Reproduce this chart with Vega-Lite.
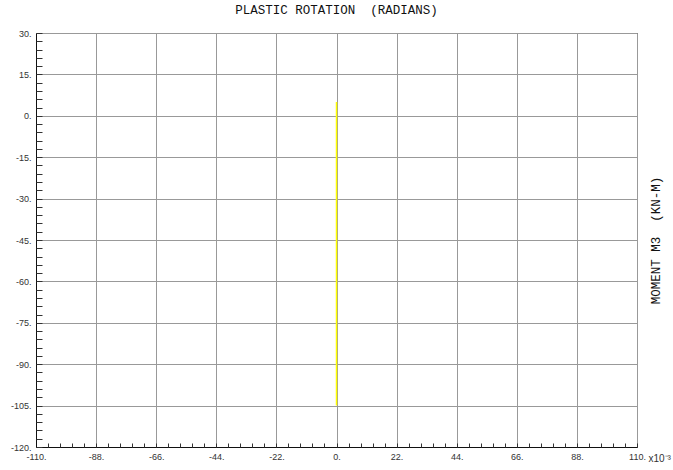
{
  "$schema": "https://vega.github.io/schema/vega-lite/v6.json",
  "width": 601,
  "height": 414,
  "autosize": {"type": "none"},
  "padding": {"left": 36, "top": 33, "right": 36, "bottom": 23},
  "background": "white",
  "config": {
    "view": {"stroke": "#222", "strokeWidth": 1},
    "axis": {"labelFont": "Liberation Sans", "labelFontSize": 9, "labelColor": "#333", "titleFont": "Liberation Mono", "titleFontWeight": "normal", "titleColor": "#111"}
  },
  "title": {"text": "PLASTIC ROTATION\u00a0\u00a0(RADIANS)", "font": "Liberation Mono", "fontSize": 12.5, "fontWeight": "normal", "color": "#111", "anchor": "middle", "offset": 13},
  "data": {"values": [{"rotation": 0, "moment": 5, "moment2": -105}]},
  "resolve": {"axis": {"x": "independent", "y": "independent"}},
  "layer": [
    {
      "mark": {"type": "rule", "color": "#FFFF00", "strokeWidth": 1.5},
      "encoding": {
        "x": {"field": "rotation", "type": "quantitative", "scale": {"domain": [-110, 110], "nice": false, "zero": false},
          "axis": {"orient": "bottom", "values": [-110, -88, -66, -44, -22, 0, 22, 44, 66, 88, 110], "labelExpr": "datum.value + '.'", "grid": true, "gridColor": "#999", "gridWidth": 1, "ticks": false, "domain": true, "domainColor": "#111", "labelPadding": 5, "labelFlush": false,
            "title": "x10⁻³", "titleFont": "Liberation Sans", "titleFontSize": 10, "titleColor": "#333", "titleX": 612, "titleY": 11, "titleAlign": "left", "titleBaseline": "middle", "titleAnchor": null}},
        "y": {"field": "moment", "type": "quantitative", "scale": {"domain": [-120, 30], "nice": false, "zero": false},
          "axis": {"orient": "left", "values": [30, 15, 0, -15, -30, -45, -60, -75, -90, -105, -120], "labelExpr": "datum.value + '.'", "grid": true, "gridColor": "#999", "gridWidth": 1, "ticks": false, "domain": true, "domainColor": "#111", "labelPadding": 5, "labelFlush": false, "title": null}},
        "y2": {"field": "moment2"}
      }
    },
    {
      "mark": {"type": "rule", "opacity": 0},
      "encoding": {
        "x": {"field": "rotation", "type": "quantitative",
          "axis": {"orient": "bottom", "values": [-110, -105.6, -101.2, -96.8, -92.4, -88, -83.6, -79.2, -74.8, -70.4, -66, -61.6, -57.2, -52.8, -48.4, -44, -39.6, -35.2, -30.8, -26.4, -22, -17.6, -13.2, -8.8, -4.4, 0, 4.4, 8.8, 13.2, 17.6, 22, 26.4, 30.8, 35.2, 39.6, 44, 48.4, 52.8, 57.2, 61.6, 66, 70.4, 74.8, 79.2, 83.6, 88, 92.4, 96.8, 101.2, 105.6, 110], "labels": false, "grid": false, "domain": false, "ticks": true, "tickSize": -4, "tickColor": "#333", "title": null}},
        "y": {"field": "moment", "type": "quantitative",
          "axis": {"orient": "left", "values": [30, 27, 24, 21, 18, 15, 12, 9, 6, 3, 0, -3, -6, -9, -12, -15, -18, -21, -24, -27, -30, -33, -36, -39, -42, -45, -48, -51, -54, -57, -60, -63, -66, -69, -72, -75, -78, -81, -84, -87, -90, -93, -96, -99, -102, -105, -108, -111, -114, -117, -120], "labels": false, "grid": false, "domain": false, "ticks": true, "tickSize": -6, "tickColor": "#333", "title": null}}
      }
    },
    {
      "mark": {"type": "rule", "opacity": 0},
      "encoding": {
        "y": {"field": "moment", "type": "quantitative",
          "axis": {"orient": "right", "labels": false, "grid": false, "domain": false, "ticks": false,
            "title": "MOMENT M3\u00a0\u00a0(KN-M)", "titleFontSize": 12.5, "titleAngle": -90, "titleX": 18, "titleY": 207, "titleAlign": "center", "titleBaseline": "middle"}}
      }
    }
  ]
}
